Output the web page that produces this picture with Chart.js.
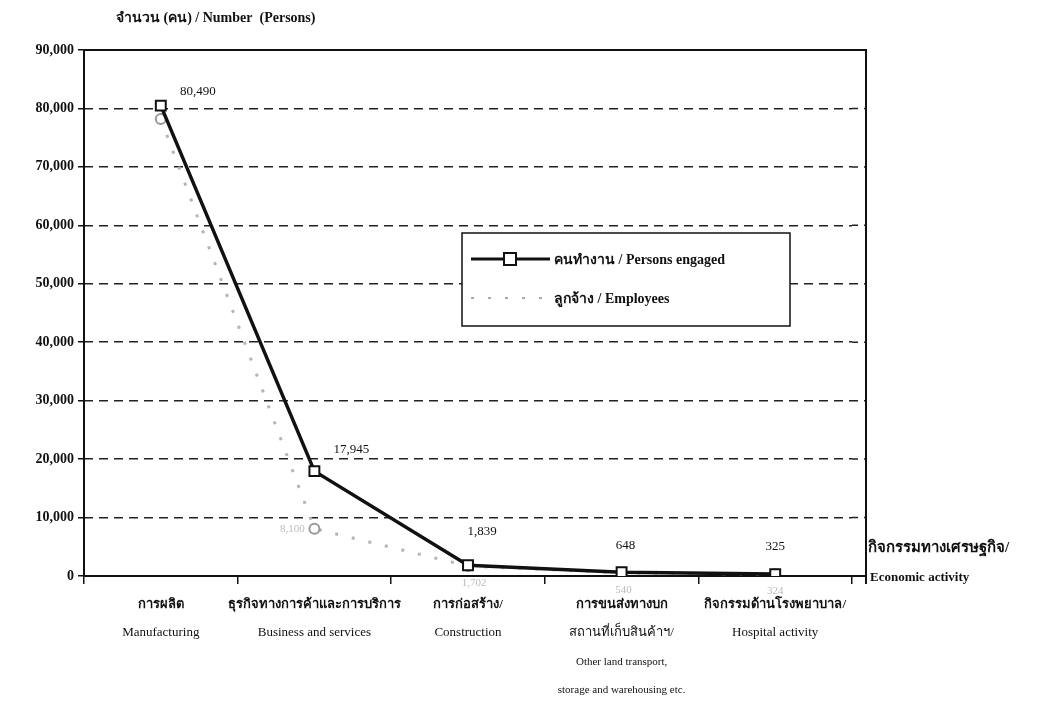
<!DOCTYPE html>
<html>
<head>
<meta charset="utf-8">
<script src="https://cdn.jsdelivr.net/npm/chart.js@4.4.1/dist/chart.umd.min.js"></script>
<style>
  html, body { margin: 0; padding: 0; background: #fff; }
  #wrap { width: 1040px; height: 707px; position: relative; }
</style>
</head>
<body>
<div id="wrap"><canvas id="chart"></canvas></div>
<script>
// ข้อมูลกราฟ
const categoriesThai = ['การผลิต', 'ธุรกิจทางการค้าและการบริการ', 'การก่อสร้าง/', 'การขนส่งทางบก', 'กิจกรรมด้านโรงพยาบาล/'];
const categoriesEng = ['Manufacturing', 'Business and services', 'Construction', 'สถานที่เก็บสินค้าฯ/', 'Hospital activity'];
const categoriesExtra = [[], [], [], ['Other land transport,', 'storage and warehousing etc.'], []];
const personsEngaged = [80490, 17945, 1839, 648, 325];
const employees = [78200, 8100, 1702, 540, 324];
const yTicks = [0, 10000, 20000, 30000, 40000, 50000, 60000, 70000, 80000, 90000];

const serif = '"Liberation Serif", "Times New Roman", serif';
const fmt = v => v.toLocaleString('en-US');
const frameRight = 866;

// กรอบ, ข้อความ และคำอธิบายสัญลักษณ์
const decorPlugin = {
    id: 'decor',
    afterDraw(chart) {
        const ctx = chart.ctx;
        const a = chart.chartArea;
        const xs = chart.scales.x;
        const ys = chart.scales.y;
        ctx.save();

        // gridlines continue to the right edge of the frame
        ctx.strokeStyle = '#222';
        ctx.lineWidth = 1.5;
        ctx.setLineDash([9, 6]);
        ctx.lineDashOffset = (a.right - a.left) % 15;
        yTicks.forEach(v => {
            if (v === 0 || v === 90000) return;
            const y = ys.getPixelForValue(v);
            ctx.beginPath();
            ctx.moveTo(a.right, y);
            ctx.lineTo(frameRight, y);
            ctx.stroke();
        });
        ctx.setLineDash([]);
        ctx.lineDashOffset = 0;

        // frame
        ctx.strokeStyle = '#111';
        ctx.lineWidth = 2;
        ctx.beginPath();
        ctx.moveTo(a.left, a.bottom);
        ctx.lineTo(a.left, a.top);
        ctx.lineTo(frameRight, a.top);
        ctx.lineTo(frameRight, a.bottom + 8);
        ctx.moveTo(a.right, a.bottom);
        ctx.lineTo(frameRight, a.bottom);
        ctx.stroke();

        // y title
        ctx.fillStyle = '#111';
        ctx.textBaseline = 'middle';
        ctx.textAlign = 'left';
        ctx.font = 'bold 14px ' + serif;
        ctx.fillText('จำนวน (คน) / Number  (Persons)', 116, 18);

        // x title (right)
        ctx.font = 'bold 15px ' + serif;
        ctx.fillText('กิจกรรมทางเศรษฐกิจ/', 868, 548);
        ctx.font = 'bold 13px ' + serif;
        ctx.fillText('Economic activity', 870, 578);

        // category labels
        ctx.textAlign = 'center';
        categoriesThai.forEach((t, i) => {
            const x = xs.getPixelForValue(i);
            ctx.font = 'bold 13px ' + serif;
            ctx.fillText(t, x, 605);
            ctx.font = '13px ' + serif;
            ctx.fillText(categoriesEng[i], x, 633);
            ctx.font = '11px ' + serif;
            categoriesExtra[i].forEach((e, j) => ctx.fillText(e, x, 662 + j * 28));
        });

        // data labels
        const m0 = chart.getDatasetMeta(0).data;
        const m1 = chart.getDatasetMeta(1).data;
        ctx.font = '13px ' + serif;
        const offs = [[37, -14], [37, -22], [14, -34], [4, -27], [0, -28]];
        m0.forEach((p, i) => {
            ctx.fillText(fmt(personsEngaged[i]), p.x + offs[i][0], p.y + offs[i][1]);
        });
        ctx.fillStyle = '#bbb';
        ctx.font = '11px ' + serif;
        const offs2 = [null, [-22, 0], [6, 17], [2, 17], [0, 17]];
        m1.forEach((p, i) => {
            if (!offs2[i]) return;
            ctx.fillText(fmt(employees[i]), p.x + offs2[i][0], p.y + offs2[i][1]);
        });

        // legend
        const lx = 462, ly = 233, lw = 328, lh = 93;
        ctx.fillStyle = '#fff';
        ctx.fillRect(lx, ly, lw, lh);
        ctx.strokeStyle = '#111';
        ctx.lineWidth = 1.5;
        ctx.strokeRect(lx, ly, lw, lh);
        ctx.lineWidth = 3;
        ctx.beginPath();
        ctx.moveTo(lx + 9, ly + 26);
        ctx.lineTo(lx + 88, ly + 26);
        ctx.stroke();
        ctx.fillStyle = '#fff';
        ctx.lineWidth = 2;
        ctx.fillRect(lx + 42, ly + 20, 12, 12);
        ctx.strokeRect(lx + 42, ly + 20, 12, 12);
        ctx.strokeStyle = '#aaa';
        ctx.setLineDash([3, 14]);
        ctx.beginPath();
        ctx.moveTo(lx + 9, ly + 65);
        ctx.lineTo(lx + 88, ly + 65);
        ctx.stroke();
        ctx.setLineDash([]);
        ctx.fillStyle = '#111';
        ctx.textAlign = 'left';
        ctx.font = 'bold 14px ' + serif;
        ctx.fillText('คนทำงาน / Persons engaged', lx + 92, ly + 27);
        ctx.fillText('ลูกจ้าง / Employees', lx + 92, ly + 66);

        ctx.restore();
    }
};

new Chart(document.getElementById('chart').getContext('2d'), {
    type: 'line',
    data: {
        labels: categoriesEng,
        datasets: [{
            label: 'คนทำงาน / Persons engaged',
            data: personsEngaged,
            borderColor: '#111',
            borderWidth: 3.5,
            pointStyle: 'rect',
            pointRadius: 7,
            pointBorderWidth: 2,
            pointBackgroundColor: '#fff',
            pointBorderColor: '#111',
            tension: 0,
            order: 0
        }, {
            label: 'ลูกจ้าง / Employees',
            data: employees,
            borderColor: '#b5b5b5',
            borderWidth: 3,
            borderDash: [3, 14],
            pointStyle: 'circle',
            pointRadius: 5,
            pointBorderWidth: 2,
            pointBackgroundColor: '#fff',
            pointBorderColor: '#999',
            tension: 0,
            order: 1
        }]
    },
    options: {
        responsive: true,
        maintainAspectRatio: false,
        animation: false,
        layout: { padding: { top: 50, right: 1040 - 852, left: 0, bottom: 0 } },
        plugins: {
            legend: { display: false },
            tooltip: { enabled: false }
        },
        scales: {
            x: {
                offset: true,
                grid: {
                    offset: true,
                    drawOnChartArea: false,
                    tickLength: 8,
                    color: '#111',
                    lineWidth: 1.5
                },
                border: { color: '#111', width: 2 },
                ticks: { display: false },
                afterFit: s => { s.height = 131; }
            },
            y: {
                min: 0,
                max: 90000,
                afterBuildTicks: s => { s.ticks = yTicks.map(v => ({ value: v })); },
                grid: {
                    color: c => c.tick && c.tick.value === 0 ? 'rgba(0,0,0,0)' : '#222',
                    lineWidth: 1.5,
                    tickLength: 6,
                    tickColor: '#111',
                    tickBorderDash: [0, 0]
                },
                border: { display: false, dash: [9, 6] },
                ticks: {
                    color: '#111',
                    padding: 4,
                    font: { family: serif, size: 14, weight: 'bold' },
                    callback: v => fmt(v)
                },
                afterFit: s => { s.width = 84; }
            }
        }
    },
    plugins: [decorPlugin]
});
</script>
</body>
</html>
